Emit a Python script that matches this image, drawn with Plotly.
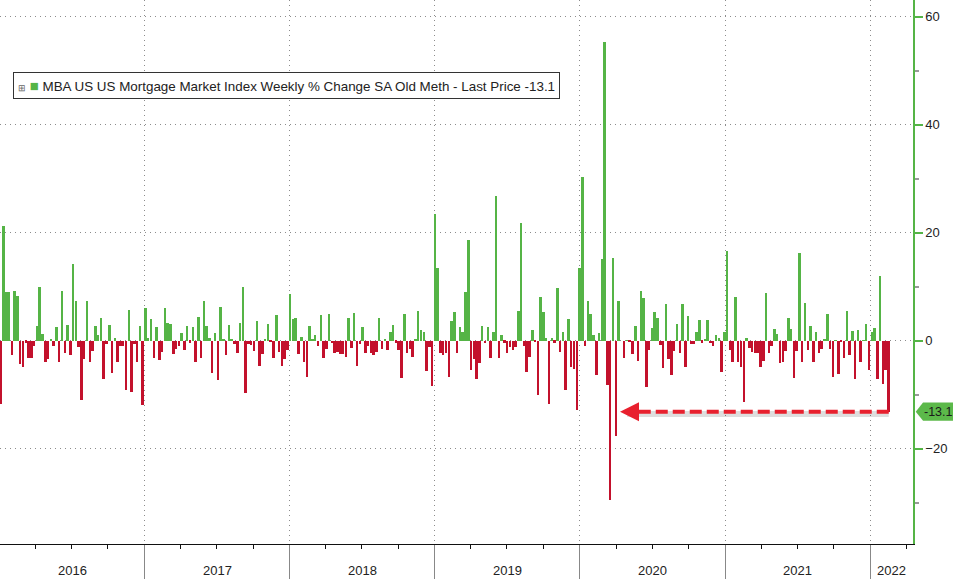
import pandas as pd
import plotly.graph_objects as go

# MBA mortgage market index, weekly % change
panel_2016 = [-11.6, 21.3, 9.1, 9.0, -2.6, 9.3, 8.3, -4.2, -4.8, -0.3,
              -3.2, -3.2, -1.0, 2.8, 10.0, 1.2, -4.0, -3.3, 0.4, -1.0,
              2.5, -4.0, 9.3, -2.3, 3.0, -2.6, 14.3, 7.3, -1.2, -11.0,
              -3.4, 7.3, -4.0, -1.9, 2.8, 1.0, 4.3, -7.0, -0.6, 3.0,
              -5.9, 0.6, -4.0, -1.0, -1.0, -9.1, 5.7, -9.4, -0.6, -4.0,
              2.7, -11.9]
panel_2017 = [6.0, 0.6, 4.1, -3.1, 2.5, -3.6, -2.0, 6.0, 3.4, 3.1,
              -2.5, -1.5, -0.9, 1.5, -1.7, 2.8, -0.3, 2.5, -4.0, 4.4,
              -3.2, 7.3, 2.8, 0.5, -6.0, 1.4, -7.3, 6.3, 0.3, -2.7,
              3.0, 0.2, -0.6, -2.2, 3.3, 10.0, -9.6, -0.6, -0.8, -1.9,
              3.7, -4.6, -2.5, 0.3, 3.1, -0.2, -3.1, 4.8, -2.0, -4.6,
              -3.4, -1.7]
panel_2018 = [8.6, 4.0, 4.3, -2.5, 0.7, -4.0, -6.6, 2.8, 0.4, 1.0,
              -0.9, 4.8, -3.2, -1.5, 5.0, -0.4, -2.3, -2.1, -2.5, -2.5,
              -2.9, 4.2, -1.3, 5.1, -4.6, -0.6, 2.6, -2.2, -1.0, -2.3,
              -2.7, -2.1, 4.3, -1.5, 0.3, -1.6, 1.7, 3.0, -0.3, -1.7,
              -6.8, 5.0, -2.2, -1.5, -3.0, 0.2, 5.6, 2.0, 1.7, -5.6,
              -1.1, -8.4]
panel_2019 = [23.5, 13.5, -2.3, -2.7, -2.3, -6.6, 3.7, 5.4, -2.2, 2.5,
              1.6, 9.0, 18.7, -5.4, -3.4, -7.1, -4.1, 2.8, -0.4, 2.5,
              -3.2, 1.6, 26.8, -3.2, 1.1, -0.3, -2.2, -1.2, -1.7, -1.2,
              5.5, 21.9, -0.9, -5.8, -3.0, 2.0, -0.2, -10.0, 8.2, 5.3,
              0.6, -11.7, 0.6, -0.3, 9.7, -2.1, 1.6, -9.1, 4.0, -4.9,
              -5.2, -12.8]
panel_2020 = [13.5, 30.4, -0.9, 7.3, 5.0, 1.1, -6.3, 1.5, 15.2, 55.4,
              -8.2, -29.4, 15.3, -17.6, 7.3, 0.0, -3.2, 0.1, -0.2, -2.4,
              2.8, -3.7, 9.3, 8.0, -8.6, -1.7, 2.3, 5.3, 4.3, -0.7,
              -5.0, 6.9, -3.3, -6.4, -1.9, 3.1, -2.3, 6.9, -4.8, 4.6,
              -0.6, -0.5, 1.7, 3.9, -0.3, 0.2, 3.9, -0.4, -1.0, 1.1,
              0.6, -5.7, 1.7]
panel_2021 = [16.7, -1.7, -4.0, 8.2, -4.0, -4.9, -11.3, 0.5, -1.3, -2.0,
              -2.3, -2.3, -4.9, -3.7, 8.8, -2.3, -0.9, 2.2, 1.2, -4.1,
              -4.0, -1.8, 4.2, 2.2, -6.8, -1.8, 16.2, -3.9, 7.1, -1.6,
              2.8, -3.9, 1.7, -2.3, -1.5, 0.2, 5.0, -1.5, -6.7, 0.1,
              -6.1, -0.2, -3.2, 5.6, -2.7, 1.8, -7.0, 2.0, -3.9, 0.1,
              3.1, -5.4]
panel_2022 = [1.6, 2.3, -7.0, 12.1, -8.0, -5.3, -13.1]

years = ["2016", "2017", "2018", "2019", "2020", "2021", "2022"]
series_name = "MBA US US Mortgage Market Index Weekly % Change SA Old Meth"

values = panel_2016 + panel_2017 + panel_2018 + panel_2019 + panel_2020 + panel_2021 + panel_2022
dates = pd.date_range("2016-01-06", periods=len(values), freq="7D")
last_price = values[-1]
last_date = dates[-1]

x_start = pd.Timestamp("2016-01-03 12:00")
x_end = pd.Timestamp("2022-04-18")
arrow_tip = pd.Timestamp("2020-04-11")   # where the red callout points to

green = "#55b446"
red = "#c3112c"
font = "Liberation Sans"
colors = [green if v >= 0 else red for v in values]

fig = go.Figure()
fig.add_trace(go.Bar(
    x=dates, y=values,
    marker=dict(color=colors, line=dict(width=0)),
    width=5 * 86400000,
    showlegend=False,
))

# red dashed callout from the last bar back to the covid low, with a soft shadow
fig.add_shape(type="line", xref="x", yref="y",
              x0=last_date, x1=arrow_tip + pd.Timedelta(days=18),
              y0=last_price - 0.45, y1=last_price - 0.45,
              line=dict(color="rgba(0,0,0,0.13)", width=6))
fig.add_shape(type="line", xref="x", yref="y",
              x0=last_date, x1=arrow_tip + pd.Timedelta(days=18),
              y0=last_price, y1=last_price,
              line=dict(color="#e8202e", width=4, dash="12px,5px"))
fig.add_annotation(x=arrow_tip, y=last_price, ax=arrow_tip + pd.Timedelta(days=26), ay=last_price,
                   xref="x", yref="y", axref="x", ayref="y", text="",
                   showarrow=True, arrowhead=2, arrowsize=0.95, arrowwidth=4, arrowcolor="#e8202e")

# last price tag on the right axis
fig.add_shape(type="path", xref="paper", yref="y",
              path=f"M 1.003 {last_price} L 1.011 {last_price + 1.7} L 1.046 {last_price + 1.7} "
                   f"L 1.046 {last_price - 1.7} L 1.011 {last_price - 1.7} Z",
              fillcolor="#5cb94a", line=dict(width=0))
fig.add_annotation(x=1.0095, y=last_price, xref="paper", yref="y", xanchor="left",
                   text=f"{last_price:.1f}", showarrow=False,
                   font=dict(family=font, size=12.5, color="#1a1a1a"))

# legend box
fig.add_annotation(
    x=13 / 913, y=1 - 85 / 544, xref="paper", yref="paper",
    xanchor="left", yanchor="middle", showarrow=False,
    text=(f"<span style='font-size:9px;color:#666'>⊞</span> "
          f"<span style='font-size:15px;color:{green}'>■</span> "
          f"{series_name} - Last Price {last_price:.1f}"),
    font=dict(family=font, size=13.4, color="#222"),
    bgcolor="white", bordercolor="#333", borderwidth=1, borderpad=4,
)

# year labels centred in each visible year
for yr in years:
    a = max(pd.Timestamp(f"{yr}-01-01"), x_start)
    b = min(pd.Timestamp(f"{int(yr) + 1}-01-01"), x_end)
    fig.add_annotation(x=a + (b - a) / 2, y=0, xref="x", yref="paper", yshift=-26,
                       yanchor="middle", text=yr, showarrow=False,
                       font=dict(family=font, size=13, color="#222"))

fig.update_xaxes(
    type="date", range=[x_start, x_end], automargin=False,
    tick0="2016-01-01", dtick="M12", showticklabels=False,
    ticks="outside", ticklen=35, tickcolor="#888", tickwidth=1,
    showgrid=True, gridcolor="#8c8c8c", griddash="1px,4px", gridwidth=1,
    showline=True, linecolor="#111", linewidth=1,
    minor=dict(dtick="M3", ticks="outside", ticklen=4, tickcolor="#111", showgrid=False),
)
fig.update_yaxes(
    side="right", range=[-37.6, 63.1], tick0=0, dtick=20, automargin=False,
    showgrid=True, gridcolor="#8c8c8c", griddash="1px,4px", gridwidth=1, zeroline=False,
    showline=True, linecolor=green, linewidth=1.5,
    ticks="outside", ticklen=8, tickwidth=2, tickcolor=green,
    minor=dict(dtick=10, ticks="outside", ticklen=4, tickcolor="#999", showgrid=False),
    tickfont=dict(family=font, size=13, color="#222"),
)
fig.update_layout(
    width=953, height=579,
    margin=dict(l=0, r=40, t=0, b=35, autoexpand=False),
    plot_bgcolor="white", paper_bgcolor="white",
    font=dict(family=font),
    bargap=0,
)

# the page's default 8px body margin would push the chart off the window
fig.write_html("out.html", config={"displayModeBar": False},
               post_script="document.body.style.margin='0';")
